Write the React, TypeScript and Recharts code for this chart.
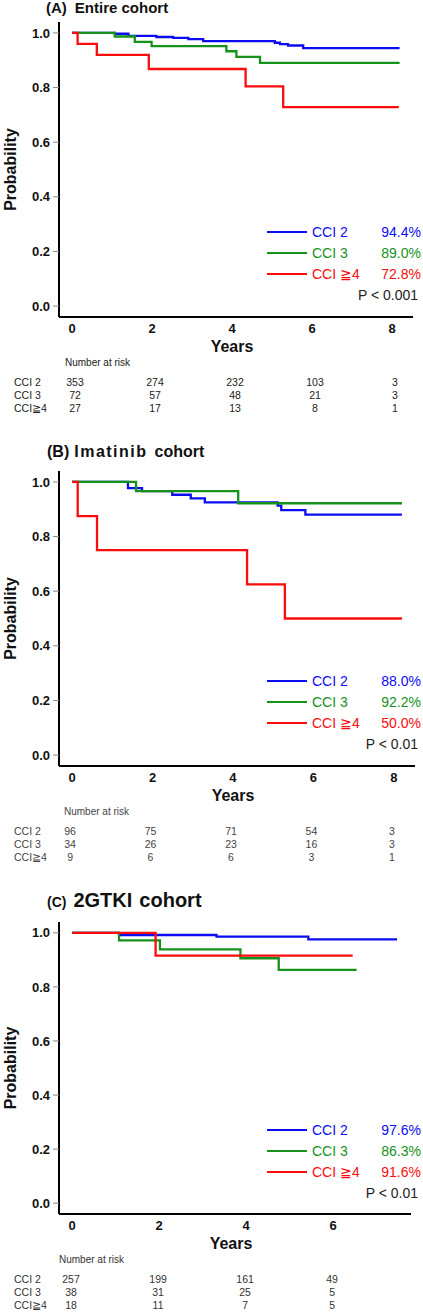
import React from "react";
import { LineChart, Line, XAxis, YAxis, Legend, Label } from "recharts";

const BLUE = "#0c0cf0";
const GREEN = "#14921a";
const RED = "#f80c0c";
const FONT = "'Liberation Sans', Arial, sans-serif";

const groupNames = ["CCI 2", "CCI 3", "CCI ≧4"];
const riskRowNames = ["CCI 2", "CCI 3", "CCI≧4"];

// (A) Entire cohort — KM steps
const entireCci2Years = [0, 1.07, 1.41, 2.11, 2.53, 2.91, 3.28, 5.07, 5.2, 5.4, 5.78, 8.19];
const entireCci2Surv = [1, 0.997, 0.989, 0.985, 0.982, 0.977, 0.97, 0.964, 0.959, 0.954, 0.944, 0.944];
const entireCci3Years = [0, 1.07, 1.57, 1.99, 3.86, 4.11, 4.7, 8.19];
const entireCci3Surv = [1, 0.987, 0.967, 0.952, 0.933, 0.912, 0.89, 0.89];
const entireCci4Years = [0, 0.14, 0.62, 1.92, 4.34, 5.28, 8.17];
const entireCci4Surv = [1, 0.96, 0.92, 0.868, 0.804, 0.728, 0.728];
const entirePct = ["94.4%", "89.0%", "72.8%"];
const entireRiskYears = [0, 2, 4, 6, 8];
const entireRiskCci2 = [353, 274, 232, 103, 3];
const entireRiskCci3 = [72, 57, 48, 21, 3];
const entireRiskCci4 = [27, 17, 13, 8, 1];

// (B) Imatinib cohort
const imaCci2Years = [0, 1.39, 1.74, 2.49, 2.95, 3.3, 5.11, 5.2, 5.8, 8.2];
const imaCci2Surv = [1, 0.977, 0.966, 0.953, 0.94, 0.925, 0.913, 0.897, 0.88, 0.88];
const imaCci3Years = [0, 1.59, 4.13, 8.2];
const imaCci3Surv = [1, 0.966, 0.922, 0.922];
const imaCci4Years = [0, 0.14, 0.62, 4.35, 5.29, 8.2];
const imaCci4Surv = [1, 0.875, 0.75, 0.625, 0.5, 0.5];
const imaPct = ["88.0%", "92.2%", "50.0%"];
const imaRiskYears = [0, 2, 4, 6, 8];
const imaRiskCci2 = [96, 75, 71, 54, 3];
const imaRiskCci3 = [34, 26, 23, 16, 3];
const imaRiskCci4 = [9, 6, 6, 3, 1];

// (C) 2GTKI cohort
const tkiCci2Years = [0, 1.08, 3.32, 5.43, 7.47];
const tkiCci2Surv = [1, 0.992, 0.986, 0.976, 0.976];
const tkiCci3Years = [0, 1.08, 2.02, 3.87, 4.75, 6.54];
const tkiCci3Surv = [1, 0.972, 0.939, 0.906, 0.863, 0.863];
const tkiCci4Years = [0, 1.92, 6.45];
const tkiCci4Surv = [1, 0.916, 0.916];
const tkiPct = ["97.6%", "86.3%", "91.6%"];
const tkiRiskYears = [0, 2, 4, 6];
const tkiRiskCci2 = [257, 199, 161, 49];
const tkiRiskCci3 = [38, 31, 25, 5];
const tkiRiskCci4 = [18, 11, 7, 5];

const yTicks = [0, 0.2, 0.4, 0.6, 0.8, 1.0];
const Y_DOMAIN: [number, number] = [-0.04, 1.04];
const PLOT_LEFT = 59;
const CHART_W = 423;
const X_AXIS_H = 40;

const steps = (years: number[], surv: number[]) => years.map((t, i) => ({ t, p: surv[i] }));

type PanelProps = {
  top: number;
  plotTop: number;
  plotHeight: number;
  rightMargin: number;
  xDomain: [number, number];
  xTicks: number[];
  series: { t: number; p: number }[][];
  pct: string[];
  pText: string;
  riskYears: number[];
  risk: number[][];
  riskShift: number;
  riskLabelLeft: number;
  riskColor: string;
  title: React.ReactNode;
  titleTop: number;
};

function KmPanel(props: PanelProps) {
  const { top, plotTop, plotHeight, rightMargin, xDomain, xTicks, series, pct, pText } = props;
  const chartH = plotTop + plotHeight + X_AXIS_H;
  const plotW = CHART_W - rightMargin - PLOT_LEFT;
  const xPix = (t: number) => PLOT_LEFT + ((t - xDomain[0]) / (xDomain[1] - xDomain[0])) * plotW;
  const axisY = plotTop + plotHeight;
  const legendTop = plotTop + ((Y_DOMAIN[1] - 0.27) / (Y_DOMAIN[1] - Y_DOMAIN[0])) * plotHeight - 10.5;
  const colors = [BLUE, GREEN, RED];

  const legendContent = () => (
    <div style={{ fontFamily: FONT, fontSize: 14 }}>
      {groupNames.map((name, i) => (
        <div key={name} style={{ display: "flex", alignItems: "center", height: 21 }}>
          <span style={{ width: 40, borderTop: `2px solid ${colors[i]}`, marginLeft: 2 }} />
          <span style={{ color: colors[i], marginLeft: 5 }}>{name}</span>
          <span style={{ color: colors[i], flex: 1, textAlign: "right" }}>{pct[i]}</span>
        </div>
      ))}
      <div style={{ height: 21, lineHeight: "21px", textAlign: "right", color: "#222", paddingRight: 3 }}>{pText}</div>
    </div>
  );

  return (
    <div style={{ position: "absolute", left: 0, top, width: CHART_W, height: chartH + 100 }}>
      <div style={{ position: "absolute", left: 0, top: props.titleTop, fontFamily: FONT, fontWeight: "bold", color: "#111", whiteSpace: "nowrap" }}>
        {props.title}
      </div>
      <LineChart width={CHART_W} height={chartH} margin={{ top: plotTop, right: rightMargin, bottom: 0, left: 9 }}>
        <XAxis
          type="number"
          dataKey="t"
          domain={xDomain}
          ticks={xTicks}
          allowDataOverflow
          height={X_AXIS_H}
          tickLine={false}
          tickSize={0}
          tickMargin={7}
          axisLine={{ stroke: "#000", strokeWidth: 2 }}
          tick={{ fontSize: 13, fontWeight: "bold", fill: "#111", fontFamily: FONT }}
        >
          <Label value="Years" position="insideBottom" offset={5} dx={-4} style={{ fontSize: 16, fontWeight: "bold", fill: "#111", fontFamily: FONT }} />
        </XAxis>
        <YAxis
          type="number"
          dataKey="p"
          domain={Y_DOMAIN}
          ticks={yTicks}
          allowDataOverflow
          width={50}
          tickSize={6}
          tickMargin={3}
          tickFormatter={(v: number) => v.toFixed(1)}
          tickLine={{ stroke: "#888" }}
          axisLine={{ stroke: "#000", strokeWidth: 2 }}
          tick={{ fontSize: 13, fontWeight: "bold", fill: "#111", fontFamily: FONT }}
        >
          <Label value="Probability" angle={-90} position="insideLeft" offset={1} style={{ textAnchor: "middle", fontSize: 16, fontWeight: "bold", fill: "#111", fontFamily: FONT }} />
        </YAxis>
        {series.map((d, i) => (
          <Line
            key={groupNames[i]}
            name={groupNames[i]}
            data={d}
            dataKey="p"
            type="stepAfter"
            stroke={colors[i]}
            strokeWidth={2.3}
            dot={false}
            activeDot={false}
            isAnimationActive={false}
          />
        ))}
        <Legend
          layout="vertical"
          align="center"
          verticalAlign="middle"
          content={legendContent}
          wrapperStyle={{ left: 265, top: legendTop, width: CHART_W - 265 - 2 }}
        />
      </LineChart>
      <div style={{ position: "absolute", left: props.riskLabelLeft, top: axisY + 46 - 6, fontFamily: FONT, fontSize: 10, color: props.riskColor }}>
        Number at risk
      </div>
      {props.risk.map((row, r) => (
        <React.Fragment key={r}>
          <div style={{ position: "absolute", left: 14, top: axisY + 66 + r * 13 - 7, fontFamily: FONT, fontSize: 10.5, color: props.riskColor }}>
            {riskRowNames[r]}
          </div>
          {row.map((n, k) => (
            <div
              key={k}
              style={{
                position: "absolute",
                left: xPix(props.riskYears[k]) + props.riskShift - 20,
                width: 40,
                textAlign: "center",
                top: axisY + 66 + r * 13 - 7,
                fontFamily: FONT,
                fontSize: 10.5,
                color: props.riskColor,
              }}
            >
              {n}
            </div>
          ))}
        </React.Fragment>
      ))}
    </div>
  );
}

export default function App() {
  return (
    <div style={{ position: "absolute", left: 0, top: 0, width: 423, height: 1312, background: "#fff", overflow: "hidden" }}>
      <KmPanel
        top={0}
        titleTop={0}
        title={
          <span style={{ fontSize: 15, lineHeight: "15px", display: "block" }}>
            <span style={{ marginLeft: 46 }}>(A)</span>
            <span style={{ marginLeft: 8 }}>Entire cohort</span>
          </span>
        }
        plotTop={22}
        plotHeight={295}
        rightMargin={10}
        xDomain={[-0.325, 8.525]}
        xTicks={[0, 2, 4, 6, 8]}
        series={[
          steps(entireCci2Years, entireCci2Surv),
          steps(entireCci3Years, entireCci3Surv),
          steps(entireCci4Years, entireCci4Surv),
        ]}
        pct={entirePct}
        pText="P < 0.001"
        riskYears={entireRiskYears}
        risk={[entireRiskCci2, entireRiskCci3, entireRiskCci4]}
        riskShift={3}
        riskLabelLeft={65}
        riskColor="#222"
      />
      <KmPanel
        top={450}
        titleTop={-6}
        title={
          <span style={{ fontSize: 16, lineHeight: "16px", display: "block" }}>
            <span style={{ marginLeft: 47 }}>(B)</span>
            <span style={{ marginLeft: 5, letterSpacing: 1.5 }}>Imatinib</span>
            <span style={{ marginLeft: 7 }}>cohort</span>
          </span>
        }
        plotTop={21}
        plotHeight={295}
        rightMargin={8}
        xDomain={[-0.325, 8.525]}
        xTicks={[0, 2, 4, 6, 8]}
        series={[
          steps(imaCci2Years, imaCci2Surv),
          steps(imaCci3Years, imaCci3Surv),
          steps(imaCci4Years, imaCci4Surv),
        ]}
        pct={imaPct}
        pText="P < 0.01"
        riskYears={imaRiskYears}
        risk={[imaRiskCci2, imaRiskCci3, imaRiskCci4]}
        riskShift={-2}
        riskLabelLeft={64}
        riskColor="#444"
      />
      <KmPanel
        top={900}
        titleTop={-10}
        title={
          <span style={{ lineHeight: "20px", display: "block" }}>
            <span style={{ marginLeft: 47, fontSize: 14 }}>(C)</span>
            <span style={{ marginLeft: 7, fontSize: 20 }}>2GTKI</span>
            <span style={{ marginLeft: 7, fontSize: 20 }}>cohort</span>
          </span>
        }
        plotTop={22}
        plotHeight={292}
        rightMargin={12}
        xDomain={[-0.3, 7.79]}
        xTicks={[0, 2, 4, 6]}
        series={[
          steps(tkiCci2Years, tkiCci2Surv),
          steps(tkiCci3Years, tkiCci3Surv),
          steps(tkiCci4Years, tkiCci4Surv),
        ]}
        pct={tkiPct}
        pText="P < 0.01"
        riskYears={tkiRiskYears}
        risk={[tkiRiskCci2, tkiRiskCci3, tkiRiskCci4]}
        riskShift={-1}
        riskLabelLeft={59}
        riskColor="#333"
      />
    </div>
  );
}
